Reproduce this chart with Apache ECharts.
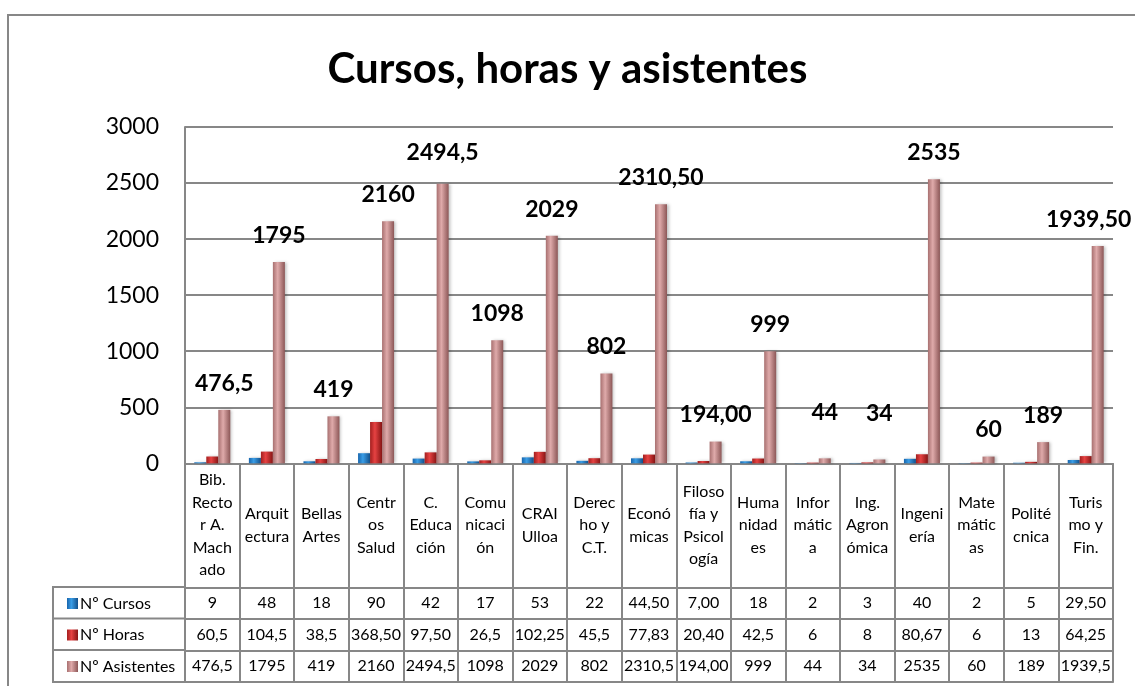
<!DOCTYPE html>
<html lang="es">
<head>
    <meta charset="UTF-8">
    <title>Cursos, horas y asistentes</title>
    <script src="https://cdn.jsdelivr.net/npm/echarts@6/dist/echarts.min.js"></script>
    <style>
        * { margin: 0; padding: 0; box-sizing: border-box; }
        body { background: #fff; }
        #chart { width: 1135px; height: 686px; }
    </style>
</head>
<body>
    <div id="chart"></div>

    <script>
        // categorías (con los cortes de línea tal como aparecen en la tabla)
        const categories = [
            'Bib.\nRecto\nr A.\nMach\nado', 'Arquit\nectura', 'Bellas\nArtes', 'Centr\nos\nSalud',
            'C.\nEduca\nción', 'Comu\nnicaci\nón', 'CRAI\nUlloa', 'Derec\nho y\nC.T.',
            'Econó\nmicas', 'Filoso\nfía y\nPsicol\nogía', 'Huma\nnidad\nes', 'Infor\nmátic\na',
            'Ing.\nAgron\nómica', 'Ingeni\nería', 'Mate\nmátic\nas', 'Polité\ncnica', 'Turis\nmo y\nFin.'
        ];
        const seriesNames = ['Nº Cursos', 'Nº Horas', 'Nº Asistentes'];

        // valores tal como aparecen en la tabla de datos
        const cursos = ['9', '48', '18', '90', '42', '17', '53', '22', '44,50', '7,00', '18', '2', '3', '40', '2', '5', '29,50'];
        const horas = ['60,5', '104,5', '38,5', '368,50', '97,50', '26,5', '102,25', '45,5', '77,83', '20,40', '42,5', '6', '8', '80,67', '6', '13', '64,25'];
        const asistentes = ['476,5', '1795', '419', '2160', '2494,5', '1098', '2029', '802', '2310,5', '194,00', '999', '44', '34', '2535', '60', '189', '1939,5'];
        // etiquetas sobre las barras de asistentes
        const asistentesLabels = ['476,5', '1795', '419', '2160', '2494,5', '1098', '2029', '802', '2310,50', '194,00', '999', '44', '34', '2535', '60', '189', '1939,50'];

        const toNum = s => parseFloat(s.replace(',', '.'));

        // ajuste de algunas etiquetas [dx, subida] (px, estilo)
        const labelNudge = { 4: [0, 5], 11: [0, 19], 12: [0, 19], 16: [-9, 0] };

        const FONT = 'Lato';
        const LINE = '#878787';

        function grad(a, b, c) {
            return new echarts.graphic.LinearGradient(0, 0, 1, 0, [
                { offset: 0, color: a },
                { offset: 0.4, color: b },
                { offset: 1, color: c }
            ]);
        }
        const colors = [
            grad('#1765ad', '#3a9de6', '#124f8a'),
            grad('#a31e1e', '#e64242', '#861414'),
            grad('#a87070', '#dfaaaa', '#8c5757')
        ];

        // filas de la tabla: desplazamiento bajo el eje (px)
        const rowTops = [124, 155.5, 187, 218.5];
        const rowH = 31.5;

        const chart = echarts.init(document.getElementById('chart'));

        const tableAxes = [cursos, horas, asistentes].map((row, i) => ({
            type: 'category',
            gridIndex: 0,
            position: 'bottom',
            offset: rowTops[i],
            data: row,
            axisLine: { show: true, lineStyle: { color: LINE, width: 2 } },
            axisTick: { show: false },
            axisLabel: {
                interval: 0,
                margin: rowH / 2,
                verticalAlign: 'middle',
                fontFamily: FONT,
                fontSize: 16,
                color: '#000'
            }
        }));
        // línea inferior de la tabla
        tableAxes.push({
            type: 'category',
            gridIndex: 0,
            position: 'bottom',
            offset: rowTops[3],
            data: categories.map(() => ''),
            axisLine: { show: true, lineStyle: { color: LINE, width: 2 } },
            axisTick: { show: false },
            axisLabel: { show: false }
        });

        const option = {
            animation: false,
            title: {
                text: 'Cursos, horas y asistentes',
                left: 'center',
                top: 43,
                textStyle: { fontFamily: FONT, fontSize: 42, fontWeight: 'bold', color: '#000' }
            },
            legend: {
                orient: 'vertical',
                left: 62,
                top: 588.5,
                itemWidth: 11,
                itemHeight: 11,
                itemGap: 11.5,
                icon: 'rect',
                data: seriesNames,
                textStyle: { fontFamily: FONT, fontSize: 16, lineHeight: 20, color: '#000', padding: [0, 0, 0, -3] }
            },
            grid: { left: 185, right: 22, top: 127, bottom: 222.7 },
            xAxis: [{
                type: 'category',
                data: categories,
                axisLine: { show: true, lineStyle: { color: LINE, width: 2 } },
                axisTick: { show: true, interval: 0, length: 219, lineStyle: { color: LINE, width: 2 } },
                axisLabel: {
                    interval: 0,
                    margin: 62,
                    verticalAlign: 'middle',
                    lineHeight: 22.5,
                    fontFamily: FONT,
                    fontSize: 16,
                    color: '#000'
                }
            }].concat(tableAxes),
            yAxis: {
                type: 'value',
                min: 0,
                max: 3000,
                interval: 500,
                axisLine: { show: true, lineStyle: { color: LINE, width: 2 } },
                axisTick: { show: false },
                splitLine: { lineStyle: { color: LINE, width: 2 } },
                axisLabel: {
                    margin: 26,
                    fontFamily: FONT,
                    fontSize: 23,
                    color: '#000',
                    formatter: v => String(v)
                }
            },
            series: [cursos, horas, asistentes].map((row, i) => ({
                name: seriesNames[i],
                type: 'bar',
                xAxisIndex: 0,
                barWidth: 12,
                barGap: '0%',
                itemStyle: {
                    color: colors[i],
                    shadowBlur: 3,
                    shadowOffsetX: 2,
                    shadowColor: 'rgba(0,0,0,0.25)'
                },
                data: row.map((s, j) => {
                    if (i < 2) return toNum(s);
                    const n = labelNudge[j] || [0, 0];
                    return { value: toNum(s), label: { offset: [n[0], -n[1]] } };
                }),
                label: i < 2 ? { show: false } : {
                    show: true,
                    position: 'top',
                    distance: 15,
                    fontFamily: FONT,
                    fontSize: 23,
                    fontWeight: 'bold',
                    color: '#000',
                    formatter: p => asistentesLabels[p.dataIndex]
                }
            })),
            graphic: [
                // marco exterior del gráfico
                { type: 'rect', shape: { x: 8, y: 15, width: 1150, height: 700 }, style: { fill: 'none', stroke: LINE, lineWidth: 2 }, silent: true },
                // columna de la leyenda en la tabla
                { type: 'polyline', shape: { points: [[185, 587], [53, 587], [53, 682], [185, 682]] }, style: { fill: 'none', stroke: LINE, lineWidth: 2 }, silent: true },
                { type: 'line', shape: { x1: 53, y1: 618.5, x2: 185, y2: 618.5 }, style: { stroke: LINE, lineWidth: 2 }, silent: true },
                { type: 'line', shape: { x1: 53, y1: 650, x2: 185, y2: 650 }, style: { stroke: LINE, lineWidth: 2 }, silent: true }
            ]
        };

        chart.setOption(option);
    </script>
</body>
</html>
